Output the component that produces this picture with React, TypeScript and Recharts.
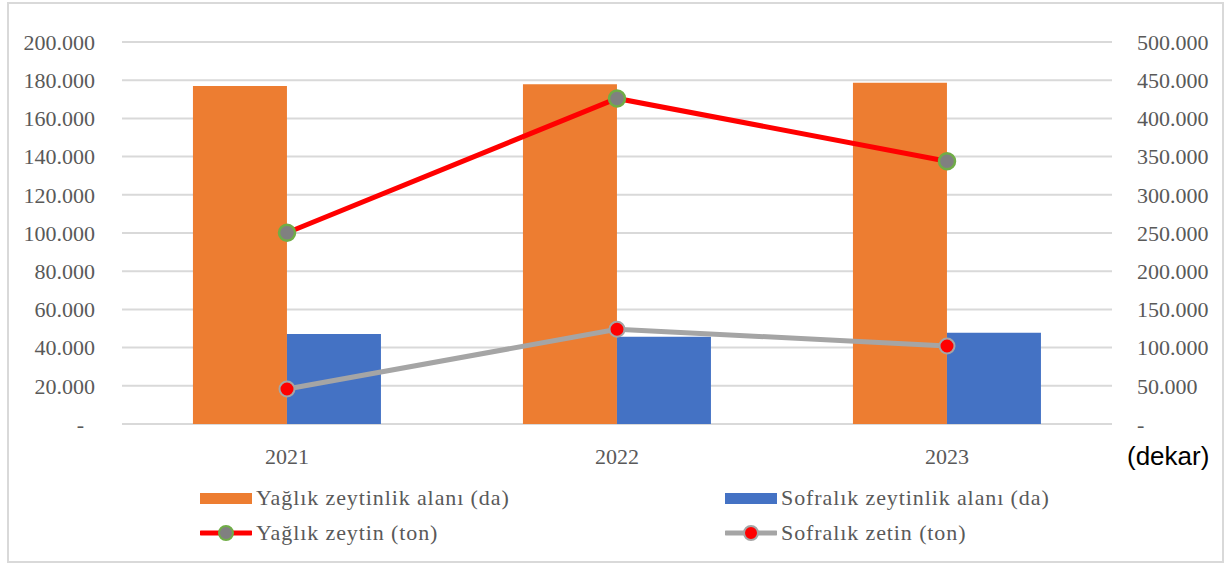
import { Bar, CartesianGrid, ComposedChart, Line, XAxis, YAxis } from "recharts";

const years = ["2021", "2022", "2023"];
// dekar (left axis)
const oilGroveArea = [176900, 177900, 178600];
const tableGroveArea = [47100, 45700, 47800];
// ton (right axis)
const oilOlive = [250400, 426100, 344000];
const tableOlive = [45800, 124000, 102100];

const leftTicks = [0, 20000, 40000, 60000, 80000, 100000, 120000, 140000, 160000, 180000, 200000];
const rightTicks = [0, 50000, 100000, 150000, 200000, 250000, 300000, 350000, 400000, 450000, 500000];

const labels = {
  oilGroveArea: "Yağlık zeytinlik alanı (da)",
  tableGroveArea: "Sofralık zeytinlik alanı (da)",
  oilOlive: "Yağlık zeytin (ton)",
  tableOlive: "Sofralık zetin (ton)",
};

const data = years.map((year, i) => ({
  year,
  oilGroveArea: oilGroveArea[i],
  tableGroveArea: tableGroveArea[i],
  oilOlive: oilOlive[i],
  tableOlive: tableOlive[i],
}));

const ORANGE = "#ed7d31";
const BLUE = "#4472c4";
const RED = "#ff0000";
const GRAY = "#a5a5a5";
const TEXT = "#595959";
const GRID = "#d9d9d9";
const SERIF = "'Liberation Serif', 'Times New Roman', serif";

const dots = (n: number) => String(n).replace(/\B(?=(\d{3})+(?!\d))/g, ".");
const fmtLeft = (v: number) => (v === 0 ? "-\u00a0\u00a0" : dots(v));
const fmtRight = (v: number) => (v === 0 ? "-" : dots(v));

const tickStyle = { fontSize: 22, fill: TEXT, fontFamily: SERIF };

type LegendItem = { label: string; kind: "bar" | "line"; color: string; dotFill?: string; dotStroke?: string };

const legendRows: LegendItem[][] = [
  [
    { label: labels.oilGroveArea, kind: "bar", color: ORANGE },
    { label: labels.tableGroveArea, kind: "bar", color: BLUE },
  ],
  [
    { label: labels.oilOlive, kind: "line", color: RED, dotFill: "#808080", dotStroke: "#70ad47" },
    { label: labels.tableOlive, kind: "line", color: GRAY, dotFill: RED, dotStroke: GRAY },
  ],
];

function LegendSymbol({ item }: { item: LegendItem }) {
  if (item.kind === "bar") {
    return (
      <svg width={52} height={20}>
        <rect x={0} y={5} width={52} height={11} fill={item.color} />
      </svg>
    );
  }
  return (
    <svg width={52} height={20}>
      <line x1={1} y1={10} x2={51} y2={10} stroke={item.color} strokeWidth={5} strokeLinecap="round" />
      <circle cx={26} cy={10} r={7} fill={item.dotFill} stroke={item.dotStroke} strokeWidth={2} />
    </svg>
  );
}

export default function App() {
  return (
    <div style={{ position: "absolute", left: 0, top: 0, width: 1229, height: 565, background: "#fff" }}>
      <div
        style={{
          position: "absolute",
          left: 7,
          top: 2,
          width: 1213,
          height: 557,
          border: `2px solid ${GRID}`,
        }}
      />
      <ComposedChart
        width={1229}
        height={565}
        data={data}
        margin={{ top: 42, right: 0, bottom: 101, left: 0 }}
        barCategoryGap="21.5%"
        barGap={0}
      >
        <CartesianGrid yAxisId="left" vertical={false} stroke={GRID} strokeWidth={2} />
        <XAxis
          dataKey="year"
          height={40}
          axisLine={false}
          tickLine={false}
          tickSize={0}
          tickMargin={24}
          tick={tickStyle}
        />
        <YAxis
          yAxisId="left"
          width={122}
          domain={[0, 200000]}
          ticks={leftTicks}
          tickFormatter={fmtLeft}
          axisLine={false}
          tickLine={false}
          tickSize={0}
          tickMargin={27}
          tick={tickStyle}
          interval={0}
        />
        <YAxis
          yAxisId="right"
          orientation="right"
          width={117}
          domain={[0, 500000]}
          ticks={rightTicks}
          tickFormatter={fmtRight}
          axisLine={false}
          tickLine={false}
          tickSize={0}
          tickMargin={25}
          tick={tickStyle}
          interval={0}
        />
        <Bar yAxisId="left" dataKey="oilGroveArea" name={labels.oilGroveArea} fill={ORANGE} isAnimationActive={false} />
        <Bar yAxisId="left" dataKey="tableGroveArea" name={labels.tableGroveArea} fill={BLUE} isAnimationActive={false} />
        <Line
          yAxisId="right"
          dataKey="oilOlive"
          name={labels.oilOlive}
          stroke={RED}
          strokeWidth={5}
          dot={{ r: 8, fill: "#808080", stroke: "#70ad47", strokeWidth: 2.5 }}
          activeDot={false}
          isAnimationActive={false}
        />
        <Line
          yAxisId="right"
          dataKey="tableOlive"
          name={labels.tableOlive}
          stroke={GRAY}
          strokeWidth={5}
          dot={{ r: 7.5, fill: RED, stroke: GRAY, strokeWidth: 2 }}
          activeDot={false}
          isAnimationActive={false}
        />
      </ComposedChart>

      <div
        style={{
          position: "absolute",
          left: 1127,
          top: 441,
          fontFamily: "'Liberation Sans', Arial, sans-serif",
          fontSize: 26,
          color: "#000",
          lineHeight: "30px",
        }}
      >
        (dekar)
      </div>

      {legendRows.map((row, r) => (
        <div key={r} style={{ position: "absolute", left: 200, top: 486 + r * 35, height: 24 }}>
          {row.map((item, c) => (
            <div
              key={item.label}
              style={{
                position: "absolute",
                left: c * 525,
                top: 0,
                display: "flex",
                alignItems: "center",
                whiteSpace: "nowrap",
                fontFamily: SERIF,
                fontSize: 22,
                letterSpacing: 0.9,
                color: TEXT,
                lineHeight: "24px",
              }}
            >
              <LegendSymbol item={item} />
              <span style={{ marginLeft: 4 }}>{item.label}</span>
            </div>
          ))}
        </div>
      ))}
    </div>
  );
}
